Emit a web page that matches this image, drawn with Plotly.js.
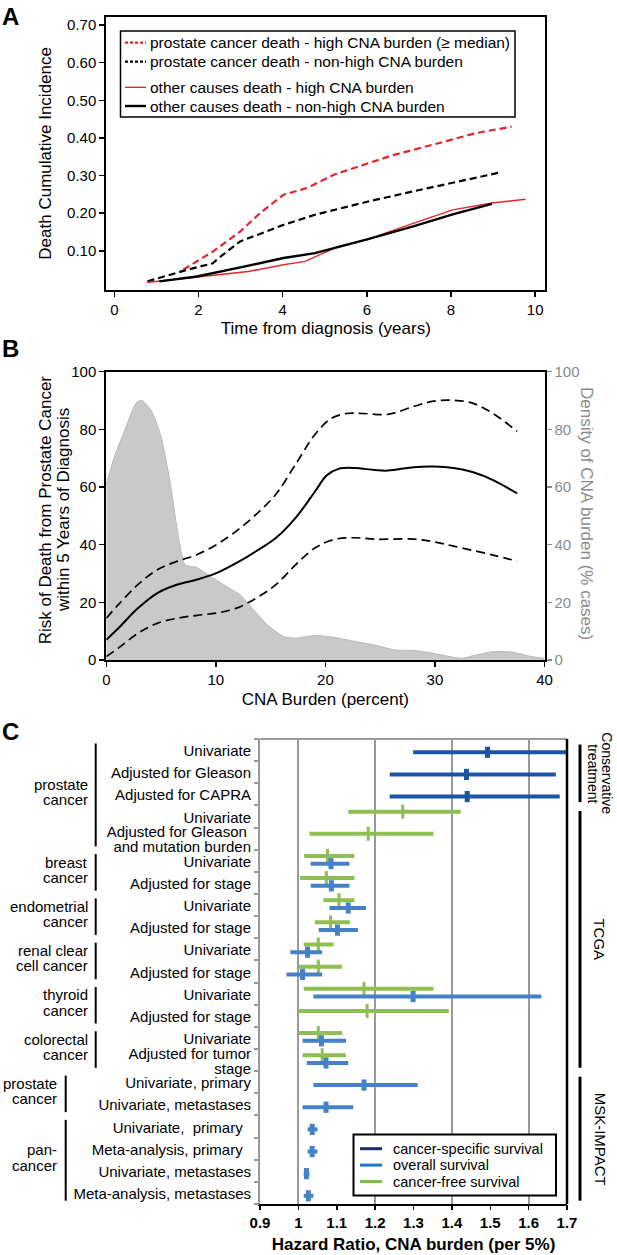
<!DOCTYPE html>
<html><head><meta charset="utf-8">
<script src="https://cdn.plot.ly/plotly-3.0.1.min.js"></script>
<style>html,body{margin:0;padding:0;background:#fff}</style>
</head><body><div id="chart" style="width:617px;height:1255px"></div>
<script>
// ---------- Panel A data ----------
const aTickX = [0, 2, 4, 6, 8, 10];
const aTickY = [0.1, 0.2, 0.3, 0.4, 0.5, 0.6, 0.7];
const aPcHighX = [1.64, 2.34, 2.99, 3.46, 4.02, 4.58, 5.23, 6.03, 6.64, 7.57, 8.6, 9.44];
const aPcHighY = [0.050, 0.098, 0.151, 0.200, 0.249, 0.267, 0.303, 0.333, 0.355, 0.382, 0.413, 0.430];
const aPcLowX = [0.79, 1.68, 2.34, 2.48, 2.99, 4.02, 4.77, 6.03, 7.1, 8.04, 9.16];
const aPcLowY = [0.019, 0.048, 0.067, 0.081, 0.125, 0.169, 0.196, 0.231, 0.258, 0.281, 0.308];
const aOcHighX = [0.77, 1.96, 3.18, 4.02, 4.53, 5.33, 6.03, 7.1, 8.04, 8.97, 9.77];
const aOcHighY = [0.016, 0.030, 0.045, 0.063, 0.072, 0.112, 0.131, 0.173, 0.209, 0.227, 0.237];
const aOcLowX = [1.07, 1.96, 3.08, 4.02, 4.77, 6.03, 7.1, 8.04, 8.97];
const aOcLowY = [0.019, 0.032, 0.058, 0.081, 0.094, 0.131, 0.165, 0.197, 0.225];
const aNames = ['prostate cancer death - high CNA burden (≥ median)', 'prostate cancer death - non-high CNA burden',
  'other causes death - high CNA burden', 'other causes death - non-high CNA burden'];

// ---------- Panel B data ----------
const bDensX = [0, 0.72, 1.8, 2.7, 3.2, 4.1, 5.0, 5.8, 6.5, 7.2, 8.3, 9.7, 11.2, 12.2, 13.3, 14.7, 16.2, 17.3, 19.1, 20.9, 22.7, 24.5, 26.3, 28.1, 29.9, 32.4, 33.5, 35.3, 37.1, 38.8, 40];
const bDensY = [61, 70.3, 80.8, 89, 90.1, 86.6, 77.3, 62.2, 44.8, 33.1, 32, 28.5, 25, 22.7, 18, 12.2, 8.1, 7.6, 8.5, 7.8, 6.4, 5.2, 3.5, 3.3, 2.3, 0.6, 1.5, 2.9, 2.7, 1.2, 0.6];
const bRiskX = [0, 1.1, 2.9, 4.7, 6.5, 8.3, 10.1, 11.9, 13.7, 15.5, 17.3, 19.1, 20.1, 21.2, 22.7, 24.5, 25.7, 28.1, 29.9, 31.7, 33.5, 35.3, 37.5];
const bRiskY = [7, 11, 18, 23.3, 26.2, 27.9, 30.2, 33.7, 37.8, 42.4, 49.4, 58.7, 64, 66.3, 66.6, 65.9, 65.7, 66.9, 67.1, 66.6, 65.1, 62.4, 57.8];
const bUpperX = [0, 1.1, 2.9, 4.7, 6.5, 8.3, 10.1, 11.9, 13.7, 15.5, 17.3, 19.1, 20.5, 21.9, 23.4, 25.7, 28.1, 29.9, 31.7, 33.5, 35.3, 37.5];
const bUpperY = [14.5, 19.2, 26.2, 31.4, 34.3, 36.6, 40.1, 44.8, 50.6, 57.6, 68, 78.5, 83.7, 85.5, 85.5, 85.2, 88, 89.8, 90.1, 89, 85.5, 79.3];
const bLowerX = [0, 1.1, 2.9, 4.7, 6.5, 8.3, 10.1, 11.9, 13.7, 15.5, 17.3, 19.1, 20.9, 22.7, 24.5, 28.1, 29.9, 31.7, 35.3, 37.5];
const bLowerY = [1.2, 4.1, 9.3, 12.8, 14.5, 15.5, 16.3, 18, 21.5, 26.2, 33.1, 39, 41.9, 42.4, 41.9, 41.9, 41, 39.5, 36.4, 34.3];
const bLeftTitle = ['Risk of Death from Prostate Cancer', 'within 5 Years of Diagnosis'];

// ---------- Panel C data ----------
const cRowLabels = ['Univariate', 'Adjusted for Gleason', 'Adjusted for CAPRA', 'Univariate',
  'Adjusted for Gleason\u00a0\nand mutation burden', 'Univariate', 'Adjusted for stage', 'Univariate', 'Adjusted for stage',
  'Univariate', 'Adjusted for stage', 'Univariate', 'Adjusted for stage', 'Univariate', 'Adjusted for tumor\nstage',
  'Univariate, primary', 'Univariate, metastases', 'Univariate,  primary\u00a0\u00a0', 'Meta-analysis, primary\u00a0\u00a0',
  'Univariate, metastases', 'Meta-analysis, metastases'];
const cXTicks = [0.9, 1.0, 1.1, 1.2, 1.3, 1.4, 1.5, 1.6, 1.7];
const cGridVals = [1.0, 1.2, 1.4, 1.6];
// cancer-specific survival
const cssRows = [0, 1, 2];
const cssEst = [1.493, 1.438, 1.440];
const cssLo = [1.299, 1.238, 1.238];
const cssHi = [1.700, 1.671, 1.681];
// overall survival
const osRows = [5, 6, 7, 8, 9, 10, 11, 13, 14, 15, 16, 17, 18, 19, 20];
const osEst = [1.085, 1.086, 1.130, 1.102, 1.024, 1.011, 1.299, 1.060, 1.072, 1.171, 1.072, 1.036, 1.036, 1.021, 1.026];
const osLo = [1.032, 1.032, 1.081, 1.053, 0.979, 0.969, 1.039, 1.011, 1.022, 1.039, 1.011, 1.024, 1.024, 1.014, 1.014];
const osHi = [1.133, 1.133, 1.176, 1.155, 1.062, 1.062, 1.633, 1.124, 1.130, 1.311, 1.143, 1.050, 1.050, 1.029, 1.039];
// cancer-free survival
const cfsRows = [3, 4, 5, 6, 7, 8, 9, 10, 11, 12, 13, 14];
const cfsEst = [1.272, 1.182, 1.076, 1.073, 1.106, 1.084, 1.052, 1.052, 1.171, 1.179, 1.052, 1.062];
const cfsLo = [1.130, 1.029, 1.015, 1.004, 1.065, 1.043, 1.014, 1.001, 1.014, 1.001, 1.001, 1.011];
const cfsHi = [1.423, 1.352, 1.146, 1.146, 1.146, 1.134, 1.092, 1.114, 1.352, 1.392, 1.114, 1.124];
const cGroupNames = [['prostate', 'cancer'], ['breast', 'cancer'], ['endometrial', 'cancer'], ['renal clear', 'cell cancer'],
  ['thyroid', 'cancer'], ['colorectal', 'cancer'], ['prostate', 'cancer'], ['pan-', 'cancer']];
const cGroupFirst = [0, 5, 7, 9, 11, 13, 15, 17];
const cGroupLast = [4, 6, 8, 10, 12, 14, 16, 20];
const cGroupTier = [0, 0, 0, 0, 0, 0, 1, 1];
const cStudyNames = [['Conservative', 'treatment'], ['TCGA'], ['MSK-IMPACT']];
const cStudyFirst = [0, 3, 15];
const cStudyLast = [2, 14, 20];
const cLegendNames = ['cancer-specific survival', 'overall survival', 'cancer-free survival'];

// ---------- styling ----------
const W = 617, H = 1255;
const fx = p => p / W;
const fy = p => 1 - p / H;
const FONT = 'Liberation Sans, Arial, Helvetica, sans-serif';
const RED = '#e2262b';
const CSS_COL = '#1a54a3', OS_COL = '#4581c6', CFS_COL = '#8fbe52';
const LEG_COLS = ['#1f2a6b', '#1e7ac6', '#7dc143'];
const GRAYTXT = '#8a8a8a';
const aStyles = [
  {color: RED, width: 2.2, dash: '7px,4px'},
  {color: '#000', width: 2.2, dash: '7px,4px'},
  {color: RED, width: 1.4},
  {color: '#000', width: 2.4}
];

const traces = [];
// Panel A
[[aPcHighX, aPcHighY], [aPcLowX, aPcLowY], [aOcHighX, aOcHighY], [aOcLowX, aOcLowY]].forEach(([xs, ys], i) =>
  traces.push({x: xs, y: ys, name: aNames[i], mode: 'lines', line: aStyles[i], xaxis: 'x', yaxis: 'y'}));
// Panel B
traces.push({x: bDensX, y: bDensY, mode: 'lines', fill: 'tozeroy', fillcolor: '#c9c9c9', line: {color: '#b8b8b8', width: 1, shape: 'spline', smoothing: 0.6}, xaxis: 'x2', yaxis: 'y2'});
traces.push({x: bUpperX, y: bUpperY, mode: 'lines', line: {color: '#000', width: 1.7, dash: '9px,5px', shape: 'spline'}, xaxis: 'x2', yaxis: 'y3'});
traces.push({x: bLowerX, y: bLowerY, mode: 'lines', line: {color: '#000', width: 1.7, dash: '9px,5px', shape: 'spline'}, xaxis: 'x2', yaxis: 'y3'});
traces.push({x: bRiskX, y: bRiskY, mode: 'lines', line: {color: '#000', width: 2, shape: 'spline'}, xaxis: 'x2', yaxis: 'y3'});
// Panel C
function forest(rows, est, lo, hi, off, color, mSize, mWidth) {
  return {
    x: est, y: rows.map(r => r + off), mode: 'markers', xaxis: 'x3', yaxis: 'y4',
    error_x: {type: 'data', symmetric: false, array: est.map((e, i) => hi[i] - e), arrayminus: est.map((e, i) => e - lo[i]),
      color: color, thickness: 4, width: 0},
    marker: {symbol: 'line-ns', size: mSize, color: color, line: {color: color, width: mWidth}}
  };
}
traces.push(forest(cfsRows, cfsEst, cfsLo, cfsHi, -0.22, CFS_COL, 10, 3));
traces.push(forest(osRows, osEst, osLo, osHi, 0.13, OS_COL, 8, 5));
traces.push(forest(cssRows, cssEst, cssLo, cssHi, 0.1, CSS_COL, 8, 5));
traces.push({x: [], y: [], xaxis: 'x4', yaxis: 'y5', hoverinfo: 'skip'});

// y tick labels of panel C
const cTickVals = [], cTickText = [];
cRowLabels.forEach((lab, i) => {
  const lines = lab.split('\n');
  lines.forEach((ln, k) => { cTickVals.push(i + 0.04 + (k - (lines.length - 1) / 2) * 0.68); cTickText.push(ln); });
});
const cBounds = cRowLabels.map((_, i) => i - 0.5).concat([cRowLabels.length - 0.5]);

const shapes = [], annotations = [];
// panel letters
[['A', 16.7], ['B', 348.5], ['C', 731.5]].forEach(([t, y]) => annotations.push({
  text: t, xref: 'paper', yref: 'paper', x: 0, y: fy(y), xanchor: 'left', yanchor: 'middle', showarrow: false,
  font: {size: 24, weight: 'bold', color: '#000'}}));
// panel A legend
shapes.push({type: 'rect', xref: 'paper', yref: 'paper', x0: fx(120.5), x1: fx(515), y0: fy(117), y1: fy(31), fillcolor: '#fff', line: {color: '#000', width: 1.5}, layer: 'above'});
[42.7, 61.7, 87.3, 106].forEach((yy, i) => {
  const st = aStyles[i];
  shapes.push({type: 'line', xref: 'paper', yref: 'paper', x0: fx(125), x1: fx(146), y0: fy(yy), y1: fy(yy),
    line: {color: st.color, width: st.width, dash: st.dash ? '3px,2px' : 'solid'}, layer: 'above'});
  annotations.push({text: aNames[i], xref: 'paper', yref: 'paper', x: fx(147.5), y: fy(yy), xanchor: 'left', yanchor: 'middle',
    showarrow: false, font: {size: 15.5, color: '#000'}});
});
// panel B titles (left two-line, right grey)
bLeftTitle.forEach((t, k) => annotations.push({text: t, xref: 'paper', yref: 'paper', x: fx(45.3 + k * 17.7), y: fy(510),
  textangle: -90, showarrow: false, font: {size: 17, color: '#000'}, xanchor: 'center', yanchor: 'middle'}));
annotations.push({text: 'Density of CNA burden (% cases)', xref: 'paper', yref: 'paper', x: fx(587), y: fy(513),
  textangle: 90, showarrow: false, font: {size: 17, color: GRAYTXT}, xanchor: 'center', yanchor: 'middle'});
// panel C borders
shapes.push({type: 'line', xref: 'x3 domain', yref: 'y4 domain', x0: 0, x1: 1, y0: 1, y1: 1, line: {color: '#9a9a9a', width: 2}});
shapes.push({type: 'line', xref: 'x3 domain', yref: 'y4 domain', x0: 1, x1: 1, y0: 0, y1: 1, line: {color: '#000', width: 2.5}});
// group brackets and labels
cGroupNames.forEach((lines, g) => {
  const bx = cGroupTier[g] === 0 ? 95.7 : 65.7;
  const tx = cGroupTier[g] === 0 ? 90 : 59;
  shapes.push({type: 'line', xref: 'paper', yref: 'y4', x0: fx(bx), x1: fx(bx), y0: cGroupFirst[g] - 0.3, y1: cGroupLast[g] + 0.35, line: {color: '#000', width: 2}});
  const mid = (cGroupFirst[g] + cGroupLast[g]) / 2 - 0.1;
  lines.forEach((ln, k) => annotations.push({text: ln, xref: 'paper', yref: 'y4', x: fx(tx), y: mid + (k - (lines.length - 1) / 2) * 0.68,
    xanchor: 'right', yanchor: 'middle', showarrow: false, font: {size: 15, color: '#000'}}));
});
cStudyNames.forEach((lines, s) => {
  const y0 = cStudyFirst[s] - 0.25, y1 = cStudyLast[s] + 0.35;
  shapes.push({type: 'line', xref: 'paper', yref: 'y4', x0: fx(580), x1: fx(580), y0: y0, y1: y1, line: {color: '#000', width: 3}});
  lines.forEach((ln, k) => annotations.push({text: ln, xref: 'paper', yref: 'y4', x: fx(600 + ((lines.length - 1) / 2 - k) * 14), y: (y0 + y1) / 2,
    textangle: 90, xanchor: 'center', yanchor: 'middle', showarrow: false, font: {size: lines.length > 1 ? 14 : 15, color: '#000'}}));
});
// panel C legend
shapes.push({type: 'rect', xref: 'paper', yref: 'paper', x0: fx(353.5), x1: fx(556), y0: fy(1195.5), y1: fy(1134.5), fillcolor: '#fff', line: {color: '#000', width: 2}, layer: 'above'});
cLegendNames.forEach((nm, k) => {
  const yy = 1148.7 + k * 16.4;
  shapes.push({type: 'line', xref: 'paper', yref: 'paper', x0: fx(360), x1: fx(382), y0: fy(yy), y1: fy(yy), line: {color: LEG_COLS[k], width: 3}, layer: 'above'});
  annotations.push({text: nm, xref: 'paper', yref: 'paper', x: fx(391), y: fy(yy), xanchor: 'left', yanchor: 'middle', showarrow: false, font: {size: 14.5, color: '#000'}});
});

const axBase = {showgrid: false, zeroline: false, linecolor: '#000', tickcolor: '#000', automargin: false};
const layout = {
  width: W, height: H, margin: {l: 0, r: 0, t: 0, b: 0},
  paper_bgcolor: '#fff', plot_bgcolor: 'rgba(0,0,0,0)',
  font: {family: FONT, size: 15, color: '#000'},
  showlegend: false,
  xaxis: Object.assign({}, axBase, {domain: [fx(106.3), fx(545.3)], anchor: 'y', range: [-0.19, 10.24], tickvals: aTickX,
    ticks: 'outside', ticklen: 5, tickwidth: 1.5, showline: true, mirror: true, linewidth: 2, tickfont: {size: 15},
    title: {text: 'Time from diagnosis (years)', font: {size: 17}, standoff: 5}}),
  yaxis: Object.assign({}, axBase, {domain: [fy(290), fy(16.7)], anchor: 'x', range: [-0.004, 0.722], tickvals: aTickY, tickformat: '.2f',
    ticks: 'outside', ticklen: 5, tickwidth: 1.5, showline: true, mirror: true, linewidth: 2, tickfont: {size: 15},
    title: {text: 'Death Cumulative Incidence', font: {size: 17}, standoff: 11}}),
  xaxis2: Object.assign({}, axBase, {domain: [fx(106.3), fx(544.5)], anchor: 'y2', range: [0, 40], dtick: 10,
    ticks: 'outside', ticklen: 5, tickwidth: 1.5, showline: true, mirror: true, linewidth: 2, tickfont: {size: 15},
    title: {text: 'CNA Burden (percent)', font: {size: 17}, standoff: 6}}),
  yaxis2: Object.assign({}, axBase, {domain: [fy(660), fy(371.7)], anchor: 'x2', side: 'right', range: [0, 100], dtick: 20,
    ticks: 'outside', ticklen: 5, tickwidth: 1.5, tickcolor: GRAYTXT, showline: true, linewidth: 2, tickfont: {size: 15, color: GRAYTXT}}),
  yaxis3: Object.assign({}, axBase, {overlaying: 'y2', anchor: 'x2', side: 'left', range: [0, 100], dtick: 20,
    ticks: 'outside', ticklen: 5, tickwidth: 1.5, showline: true, linewidth: 2, tickfont: {size: 15}}),
  xaxis3: Object.assign({}, axBase, {domain: [fx(260), fx(567)], anchor: 'y4', range: [0.9, 1.7], tickvals: cGridVals,
    showticklabels: false, ticks: '', showgrid: true, gridcolor: '#999', gridwidth: 2, showline: true, linewidth: 2}),
  xaxis4: Object.assign({}, axBase, {overlaying: 'x3', anchor: 'y5', side: 'bottom', range: [0.9, 1.7], tickvals: cXTicks,
    ticktext: cXTicks.map(v => String(Math.round(v * 10) / 10)),
    ticks: 'outside', ticklen: 5, tickwidth: 1.5, showline: false, tickfont: {size: 15, weight: 'bold'},
    title: {text: 'Hazard Ratio, CNA burden (per 5%)', font: {size: 17, weight: 'bold'}, standoff: 8}}),
  yaxis4: Object.assign({}, axBase, {domain: [fy(1204), fy(739)], anchor: 'x3', range: [20.5, -0.5], tickvals: cTickVals, ticktext: cTickText,
    ticks: 'outside', ticklen: 4, tickcolor: 'rgba(0,0,0,0)', showline: true, linecolor: '#999', linewidth: 2, tickfont: {size: 15}}),
  yaxis5: Object.assign({}, axBase, {overlaying: 'y4', anchor: 'x4', side: 'left', range: [20.5, -0.5], tickvals: cBounds,
    showticklabels: false, ticks: 'outside', ticklen: 5, tickwidth: 2, tickcolor: '#999', showline: false}),
  shapes: shapes, annotations: annotations
};
Plotly.newPlot('chart', traces, layout, {staticPlot: true, displayModeBar: false});
</script></body></html>
